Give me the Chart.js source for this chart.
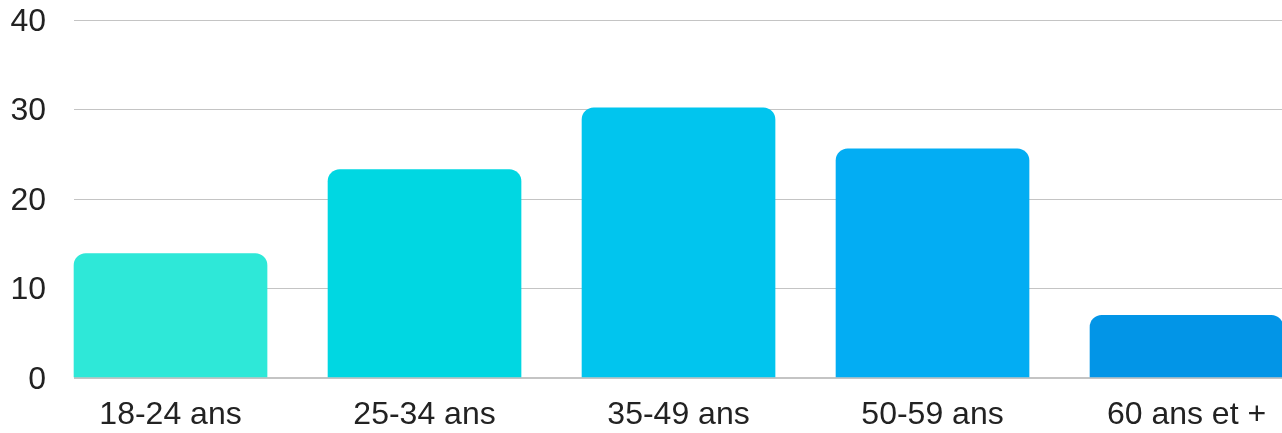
<!DOCTYPE html>
<html>
<head>
<meta charset="utf-8">
<script src="https://cdn.jsdelivr.net/npm/chart.js@4"></script>
<style>
  body{margin:0;background:#fff;overflow:hidden;}
  #wrap{width:1282px;height:433px;}
</style>
</head>
<body>
<div id="wrap"><canvas id="ageChart"></canvas></div>
<script>
// data
var ageLabels=["18-24 ans","25-34 ans","35-49 ans","50-59 ans","60 ans et +"];
var ageValues=[13.9,23.3,30.2,25.6,7.0];
var barColors=["#2ee8d8","#00d7e2","#01c5ee","#03adf3","#0295e7"];
var yTicks=[0,10,20,30,40];
//____________________________________________________________
var points=ageValues.map(function(v,i){return {x:i,y:v};});

Chart.defaults.font.family="'Liberation Sans', Arial, sans-serif";
Chart.defaults.font.size=32;
Chart.defaults.color="#222";

new Chart(document.getElementById("ageChart"),{
  type:"bar",
  data:{
    datasets:[{
      data:points,
      backgroundColor:barColors,
      borderRadius:{topLeft:12,topRight:12,bottomLeft:0,bottomRight:0},
      borderSkipped:"bottom",
      barThickness:193,
      clip:false
    }]
  },
  options:{
    responsive:true,
    maintainAspectRatio:false,
    animation:false,
    layout:{padding:{left:10,right:0,top:0,bottom:0}},
    plugins:{legend:{display:false},tooltip:{enabled:false}},
    scales:{
      x:{
        type:"linear",
        offset:false,
        min:-0.38,
        max:-0.38+1208/254,
        grid:{display:false,drawTicks:false,offset:false},
        border:{display:false},
        ticks:{
          stepSize:1,
          includeBounds:false,
          autoSkip:false,
          maxRotation:0,
          padding:18,
          callback:function(v){return ageLabels[v]!==undefined?ageLabels[v]:"";}
        },
        afterFit:function(scale){
          scale.height=55;
          scale.paddingLeft=0;
          scale.paddingRight=0;
        }
      },
      y:{
        min:yTicks[0],
        max:yTicks[yTicks.length-1],
        grid:{
          drawTicks:false,
          color:"#c4c4c4",
          lineWidth:function(ctx){return ctx.tick&&ctx.tick.value===0?2:1;}
        },
        border:{display:false},
        ticks:{stepSize:10,padding:28,labelOffset:2},
        afterFit:function(scale){
          scale.width=64;
          scale.paddingTop=20;
          scale.paddingBottom=0;
        }
      }
    }
  }
});
</script>
</body>
</html>
